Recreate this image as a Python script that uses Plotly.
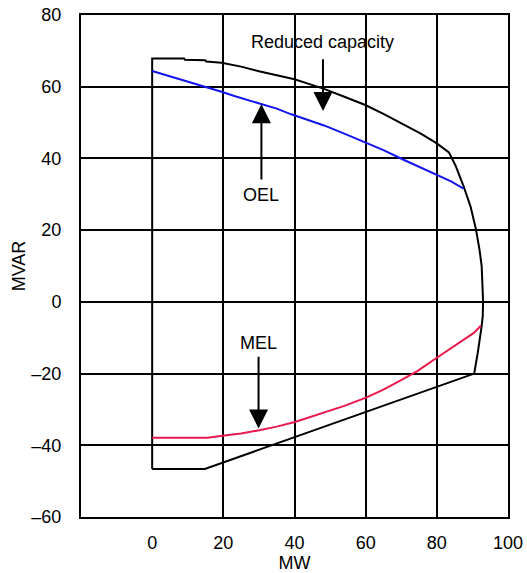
import plotly.graph_objects as go

# Capability curve (closed outline)
cap_mw = [0, 0, 9.0, 9.2, 14.9, 15.2, 19.5, 25, 30, 35, 40, 44, 48.3, 54, 59.9, 65, 70.5,
          75.5, 80, 83.4, 85.3, 87.5, 89.5, 91.0, 92.0, 92.6, 93.0, 92.9, 92.6, 92.1, 91.5,
          90.5, 14.8, 0]
cap_mvar = [-46.6, 67.9, 67.9, 67.5, 67.4, 67.0, 66.7, 65.6, 64.3, 63.3, 62.1, 60.8, 59.4,
            57.2, 54.9, 52.4, 49.6, 46.9, 44.2, 41.7, 37.9, 32.3, 26.5, 20.2, 14.5, 10.0,
            0.0, -4.0, -6.8, -10.5, -14.2, -20.0, -46.6, -46.6]

# Over-excitation limiter (blue)
oel_mw = [0, 10, 19.5, 23.1, 29.8, 35, 39.1, 44, 48.3, 54, 59.9, 65, 70.5, 75, 80, 84, 87.5]
oel_mvar = [64.4, 61.5, 58.6, 57.4, 55.5, 53.9, 52.3, 50.7, 49.2, 46.9, 44.4, 42.3, 39.7,
            37.7, 35.5, 33.6, 31.6]

# Minimum excitation limiter (red)
mel_mw = [0, 10, 15.6, 20.3, 25, 30.1, 35, 40.1, 47.3, 54, 60.1, 65, 69.7, 74.5, 80, 84,
          87.8, 90.5, 92.4]
mel_mvar = [-37.9, -37.9, -37.9, -37.3, -36.7, -35.8, -34.8, -33.5, -31.2, -29.0, -26.7,
            -24.5, -22.0, -19.3, -15.6, -13.0, -10.5, -8.6, -6.6]

# Annotations: label text, label position, arrow x, arrow tail y, arrow tip y
labels = ["Reduced capacity", "OEL", "MEL"]
label_x = [47.9, 30.7, 30.0]
label_y = [72.6, 29.7, -11.4]
arrow_x = [48.0, 30.7, 29.9]
arrow_tail = [68.1, 33.7, -14.9]
arrow_tip = [53.2, 55.1, -35.3]

x_ticks = [0, 20, 40, 60, 80, 100]
x_grid = [20, 40, 60, 80]
y_ticks = [-60, -40, -20, 0, 20, 40, 60, 80]
y_ticktext = ["\u201360", "\u201340", "\u201320", "0", "20", "40", "60", "80"]

FONT = "Liberation Sans, Arial, sans-serif"

fig = go.Figure()
fig.add_trace(go.Scatter(x=cap_mw, y=cap_mvar, mode="lines",
                         line=dict(color="black", width=2), showlegend=False))
fig.add_trace(go.Scatter(x=oel_mw, y=oel_mvar, mode="lines",
                         line=dict(color="#1414f0", width=2), showlegend=False))
fig.add_trace(go.Scatter(x=mel_mw, y=mel_mvar, mode="lines",
                         line=dict(color="#e8194b", width=2), showlegend=False))

for t, lx, ly, axx, at, ah in zip(labels, label_x, label_y, arrow_x, arrow_tail, arrow_tip):
    fig.add_annotation(x=lx, y=ly, text=t, showarrow=False,
                       font=dict(family=FONT, size=18, color="black"))
    fig.add_annotation(x=axx, y=ah, ax=axx, ay=at, axref="x", ayref="y", text="",
                       showarrow=True, arrowhead=2, arrowsize=1.9, arrowwidth=2,
                       arrowcolor="black")

fig.update_layout(
    width=527, height=573,
    margin=dict(l=81, r=19, t=15, b=56, autoexpand=False),
    paper_bgcolor="white", plot_bgcolor="white",
    font=dict(family=FONT, size=18, color="black"),
    xaxis=dict(range=[-20, 100], tickvals=x_ticks, showgrid=False, zeroline=False,
               showline=True, mirror=True, linecolor="black", linewidth=2,
               ticks="", ticklabelstandoff=8, automargin=False,
               minor=dict(tickvals=x_grid, showgrid=True, gridcolor="black", gridwidth=2),
               title=dict(text="MW", standoff=4, font=dict(size=18))),
    yaxis=dict(range=[-60, 80], tickvals=y_ticks, ticktext=y_ticktext, showgrid=True,
               gridcolor="black", gridwidth=2, zeroline=False,
               showline=True, mirror=True, linecolor="black", linewidth=2,
               ticks="", ticklabelstandoff=14, automargin=False,
               title=dict(text="MVAR", standoff=1, font=dict(size=18))),
)

fig.write_html("out.html")
